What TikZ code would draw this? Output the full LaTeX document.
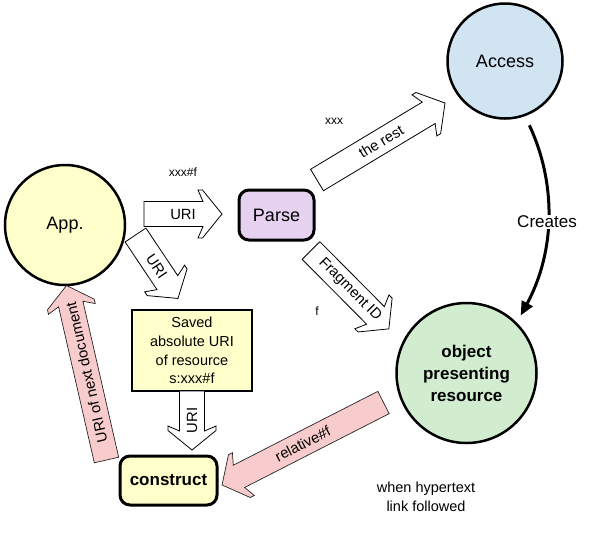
\documentclass[tikz,border=0pt]{standalone}
\usepackage{fontspec}
\setmainfont{Liberation Sans}
\usetikzlibrary{arrows.meta,calc}
\definecolor{accessblue}{RGB}{208,228,242}
\definecolor{appyellow}{RGB}{255,255,204}
\definecolor{parselav}{RGB}{230,210,240}
\definecolor{objgreen}{RGB}{210,236,208}
\definecolor{pinkarrow}{RGB}{248,204,204}
\tikzset{
  bigcircle/.style={circle, draw, line width=2.5pt, inner sep=0pt, align=center},
  roundbox/.style={rectangle, rounded corners=10pt, draw, line width=3pt, inner sep=2pt},
  whiteblock/.style={draw=black, line width=0.8pt, fill=white, line join=miter},
  pinkblock/.style={draw=black!85, line width=0.7pt, fill=pinkarrow, line join=miter},
  arrowtext/.style={font=\fontsize{14.8}{16}\selectfont, inner sep=0pt},
  bigtext/.style={font=\fontsize{18}{21}\selectfont},
  boldtext/.style={font=\fontsize{17}{22}\selectfont\bfseries},
  note/.style={font=\fontsize{12}{14}\selectfont, inner sep=0pt},
  midnote/.style={font=\fontsize{14.5}{19}\selectfont, inner sep=0pt, align=center},
  createsline/.style={line width=3pt, -{Triangle[length=14pt,width=12pt]}, shorten <=10pt, shorten >=8pt},
}
% block arrow: #1 style, #2 tail, #3 tip, #4 text rotation offset, #5 text
\newcommand\blockarrow[5]{%
  \pgfpointanchor{#2}{center}\pgfgetlastxy\bax\bay
  \pgfpointanchor{#3}{center}\pgfgetlastxy\bbx\bby
  \pgfmathsetmacro\baang{atan2((\bby)-(\bay),(\bbx)-(\bax))}%
  \pgfmathsetmacro\balen{veclen((\bbx)-(\bax),(\bby)-(\bay))}%
  \pgfmathsetmacro\batxt{\baang+#4}%
  \begin{scope}[shift={(#2)},rotate=\baang]
    \draw[#1] (0pt,-12.5pt) -- ({\balen pt-19pt},-12.5pt) -- ({\balen pt-24pt},-24pt)
      -- ({\balen pt-19.5pt},-24pt) -- (\balen pt,0pt) -- ({\balen pt-19.5pt},24pt)
      -- ({\balen pt-24pt},24pt) -- ({\balen pt-19pt},12.5pt) -- (0pt,12.5pt) -- cycle;
    \node[arrowtext,rotate=\batxt] at ({0.5*\balen pt},0pt) {#5};
  \end{scope}}

\begin{document}
\begin{tikzpicture}[x=1pt,y=-1pt]
\useasboundingbox (0,0) rectangle (594,542);

% main nodes
\node[bigcircle, fill=accessblue, minimum size=115pt, bigtext] (access) at (505,61) {Access};
\node[bigcircle, fill=appyellow, minimum size=120pt, bigtext] (app) at (65,225) {App.};
\node[bigcircle, fill=objgreen, minimum size=140pt, boldtext] (object) at (466.5,373) {object\\presenting\\resource};
\node[roundbox, fill=parselav, minimum width=75pt, minimum height=50pt, bigtext] (parse) at (276.5,215) {Parse};
\node[roundbox, fill=appyellow, minimum width=97pt, minimum height=49pt, boldtext] (construct) at (168.5,480.5) {construct};
\node[rectangle, draw, line width=2pt, fill=appyellow, minimum width=120pt, minimum height=81pt,
      align=center, font=\fontsize{14.5}{18.7}\selectfont, inner sep=1pt] (saved) at (192,350.5)
      {Saved\\absolute URI\\of resource\\s:xxx\#f};

% arrow end points
\coordinate (u1s) at (144,214);   \coordinate (u1e) at (222,214);
\coordinate (u2s) at (135.5,235); \coordinate (u2e) at (178,298.5);
\coordinate (rts) at (317,180);   \coordinate (rte) at (445,103);
\coordinate (fis) at (311,250.5); \coordinate (fie) at (389,329);
\coordinate (u3s) at (192,391);   \coordinate (u3e) at (192,450);
\coordinate (nds) at (106.5,460); \coordinate (nde) at (66.5,285.5);
\coordinate (rls) at (383.5,402.5); \coordinate (rle) at (222,485);

% block arrows
\blockarrow{whiteblock}{u1s}{u1e}{0}{URI}
\blockarrow{whiteblock}{u2s}{u2e}{0}{URI}
\blockarrow{whiteblock}{rts}{rte}{0}{the rest}
\blockarrow{whiteblock}{fis}{fie}{0}{Fragment ID}
\blockarrow{whiteblock}{u3s}{u3e}{180}{URI}
\blockarrow{pinkblock}{nds}{nde}{0}{URI of next document}
\blockarrow{pinkblock}{rls}{rle}{180}{relative\#f}

% creates arrow
\draw[createsline] (access.290) .. controls (556,182) and (556,250) .. (object.45);
\node[fill=white, inner sep=1pt, font=\fontsize{17}{20}\selectfont] (creates) at (547,222) {Creates};

% notes
\node[note] (nxxx) at (334,121) {xxx};
\node[note] (nxxxf) at (183,172) {xxx\#f};
\node[note] (nf) at (317,311) {f};
\node[midnote] (when) at (426,496.5) {when hypertext\\link followed};
\end{tikzpicture}
\end{document}
